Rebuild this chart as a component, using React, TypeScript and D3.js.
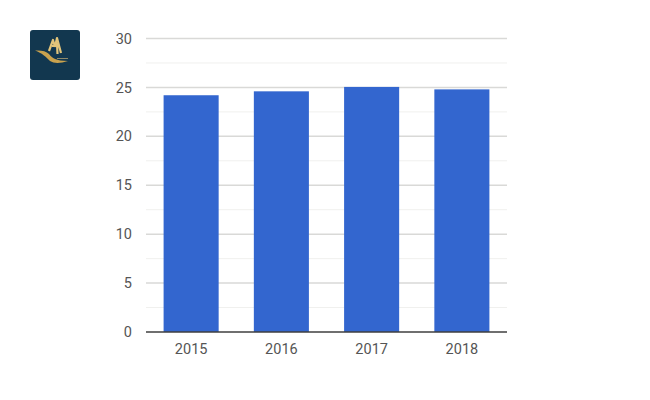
import * as d3 from 'd3';
import React, { useEffect, useRef } from 'react';

const years = ['2015', '2016', '2017', '2018'];
const values = [24.2, 24.6, 25.05, 24.8];
const majorTicks = [0, 5, 10, 15, 20, 25, 30];
const minorTicks = [2.5, 7.5, 12.5, 17.5, 22.5, 27.5];

const width = 650;
const height = 400;
const margin = { top: 38.5, right: 143, bottom: 68, left: 146 };

export default function App() {
	const svgRef = useRef<SVGSVGElement>(null);

	useEffect(() => {
		const svg = d3.select(svgRef.current);
		svg.selectAll('*').remove();

		const x: any = d3
			.scaleBand()
			.domain(years)
			.range([margin.left, width - margin.right])
			.paddingInner(0.39)
			.paddingOuter(0.195);

		const y: any = d3
			.scaleLinear()
			.domain([0, 30])
			.range([height - margin.bottom, margin.top]);

		// logo
		const logo = svg.append('g').attr('transform', 'translate(30,30)');
		logo.append('rect').attr('width', 50).attr('height', 50).attr('rx', 3).attr('fill', '#12374f');
		logo.append('path')
			.attr('d', 'M5 20.5 C11 20 16 21 19 24 C22 28 26 31 38 31 C30 33.5 24 33.5 20 31 C16 27 12 23 5 20.5 Z')
			.attr('fill', '#c9a24e');
		// figure, drawn as strokes
		logo.append('path')
			.attr('d', 'M19 21 L23 10 L25 17 M25 17 L27 8 L31 23 M22 16 L29 16 M27 13 L27.5 24')
			.attr('fill', 'none')
			.attr('stroke', '#e3c57a')
			.attr('stroke-width', 2.2)
			.attr('stroke-linejoin', 'round');
		logo.append('rect').attr('x', 27).attr('y', 28).attr('width', 11).attr('height', 1).attr('fill', '#8f8a6a');

		const gridLeft = margin.left;
		const gridRight = width - margin.right;

		svg.append('g')
			.selectAll('line')
			.data(minorTicks)
			.join('line')
			.attr('x1', gridLeft)
			.attr('x2', gridRight)
			.attr('y1', (d: any) => y(d))
			.attr('y2', (d: any) => y(d))
			.attr('stroke', '#f0f0ee')
			.attr('stroke-width', 1);

		svg.append('g')
			.selectAll('line')
			.data(majorTicks.filter(d => d > 0))
			.join('line')
			.attr('x1', gridLeft)
			.attr('x2', gridRight)
			.attr('y1', (d: any) => y(d))
			.attr('y2', (d: any) => y(d))
			.attr('stroke', '#d9d9d7')
			.attr('stroke-width', 1.5);

		svg.append('g')
			.selectAll('rect')
			.data(values)
			.join('rect')
			.attr('x', (d: any, i: any) => x(years[i]))
			.attr('y', (d: any) => y(d))
			.attr('width', x.bandwidth())
			.attr('height', (d: any) => y(0) - y(d))
			.attr('fill', '#3366cf');

		svg.append('line')
			.attr('x1', gridLeft)
			.attr('x2', gridRight)
			.attr('y1', y(0))
			.attr('y2', y(0))
			.attr('stroke', '#3f3f3f')
			.attr('stroke-width', 1.4);

		const yAxis = d3.axisLeft(y).tickValues(majorTicks).tickSize(0).tickPadding(14).tickFormat(d3.format('d') as any);
		svg.append('g')
			.attr('transform', `translate(${margin.left},0)`)
			.call(yAxis as any)
			.call((g: any) => g.select('.domain').remove())
			.call((g: any) =>
				g.selectAll('text').attr('font-family', 'Roboto').attr('font-size', 14.5).attr('fill', '#555555')
			);

		const xAxis = d3.axisBottom(x).tickSize(0).tickPadding(12);
		svg.append('g')
			.attr('transform', `translate(0,${y(0)})`)
			.call(xAxis as any)
			.call((g: any) => g.select('.domain').remove())
			.call((g: any) =>
				g.selectAll('text').attr('font-family', 'Roboto').attr('font-size', 14.5).attr('fill', '#555555')
			);
	}, []);

	return (
		<svg
			ref={svgRef}
			width={width}
			height={height}
			style={{ position: 'absolute', left: 0, top: 0, background: '#ffffff' }}
		/>
	);
}
